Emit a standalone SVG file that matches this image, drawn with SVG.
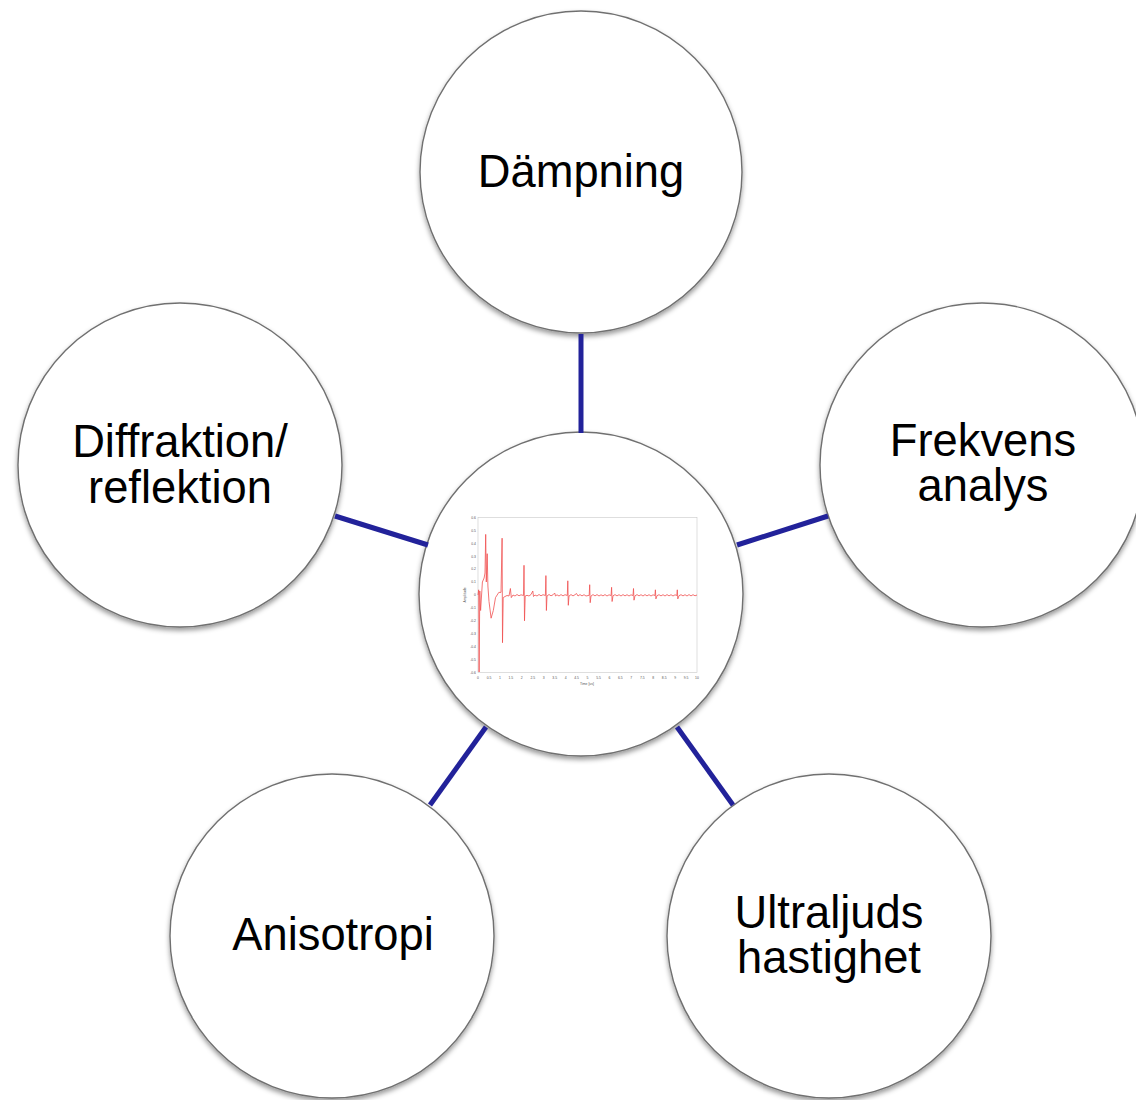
<svg xmlns="http://www.w3.org/2000/svg" width="1136" height="1100" viewBox="0 0 1136 1100">
<defs>
<filter id="sh" x="-20%" y="-20%" width="140%" height="140%">
<feDropShadow dx="0" dy="3" stdDeviation="2.5" flood-color="#000" flood-opacity="0.4"/>
</filter>
<style>
.node circle{fill:#ffffff;stroke:#707070;stroke-width:1.4;filter:url(#sh)}
.lbl{font-family:"Liberation Sans",Arial,sans-serif;font-size:45.3px;fill:#000;text-anchor:middle}
.conn line{stroke:#22229a;stroke-width:5;stroke-linecap:butt}
.tk{font-family:"Liberation Sans",Arial,sans-serif;font-size:3.4px;fill:#555}
.tky{text-anchor:end}
.tkx{text-anchor:middle}
</style>
</defs>
<rect width="1136" height="1100" fill="#ffffff"/>

<g id="node-daempning" class="node">
<circle cx="581" cy="172" r="161"/>
<text class="lbl" x="581" y="187">Dämpning</text>
</g>

<g id="node-diffraktion" class="node">
<circle cx="180" cy="465" r="162"/>
<text class="lbl" x="180" y="457">Diffraktion/</text>
<text class="lbl" x="180" y="503">reflektion</text>
</g>

<g id="node-frekvens" class="node">
<circle cx="982" cy="465" r="162"/>
<text class="lbl" x="983" y="456">Frekvens</text>
<text class="lbl" x="983" y="501">analys</text>
</g>

<g id="node-anisotropi" class="node">
<circle cx="332" cy="936" r="162"/>
<text class="lbl" x="333" y="950">Anisotropi</text>
</g>

<g id="node-ultraljud" class="node">
<circle cx="829" cy="936" r="162"/>
<text class="lbl" x="829" y="928">Ultraljuds</text>
<text class="lbl" x="829" y="973">hastighet</text>
</g>

<g id="node-center" class="node">
<circle cx="581" cy="594" r="162"/>
<g id="chart">
<rect x="466" y="514" width="241" height="174" fill="#ffffff"/>
<rect x="478" y="517.6" width="219" height="154.8" fill="none" stroke="#c8c8c8" stroke-width="0.6"/>
<g class="tk tky">
<text x="476" y="518.8">0.6</text>
<text x="476" y="531.7">0.5</text>
<text x="476" y="544.6">0.4</text>
<text x="476" y="557.5">0.3</text>
<text x="476" y="570.4">0.2</text>
<text x="476" y="583.3">0.1</text>
<text x="476" y="596.2">0</text>
<text x="476" y="609.1">-0.1</text>
<text x="476" y="622">-0.2</text>
<text x="476" y="634.9">-0.3</text>
<text x="476" y="647.8">-0.4</text>
<text x="476" y="660.7">-0.5</text>
<text x="476" y="673.6">-0.6</text>
</g>
<g class="tk tkx">
<text x="478" y="679">0</text>
<text x="489" y="679">0.5</text>
<text x="499.9" y="679">1</text>
<text x="510.9" y="679">1.5</text>
<text x="521.8" y="679">2</text>
<text x="532.8" y="679">2.5</text>
<text x="543.7" y="679">3</text>
<text x="554.7" y="679">3.5</text>
<text x="565.6" y="679">4</text>
<text x="576.6" y="679">4.5</text>
<text x="587.5" y="679">5</text>
<text x="598.5" y="679">5.5</text>
<text x="609.4" y="679">6</text>
<text x="620.4" y="679">6.5</text>
<text x="631.3" y="679">7</text>
<text x="642.3" y="679">7.5</text>
<text x="653.2" y="679">8</text>
<text x="664.2" y="679">8.5</text>
<text x="675.1" y="679">9</text>
<text x="686.1" y="679">9.5</text>
<text x="697" y="679">10</text>
<text x="587" y="684.5">Time [us]</text>
<text x="0" y="0" transform="translate(466,595) rotate(-90)">Amplitude</text>
</g>
<path fill="none" stroke="#f05050" stroke-width="0.8" stroke-linejoin="round" d="M478,595 L478.7,589.8 L479.1,672 L479.8,591 L480.6,610.5 L482.4,582 L484.1,578 L485,573 L485.7,534.4 L486.3,582 L487.2,553.7 L487.9,586 L489,601.5 L491.1,618.2 L493.3,610.5 L495.5,597.6 L498.8,592.4 L501,592.4 L502.1,538.2 L502.5,642.7 L503.2,597.6 L505,596.5 L507,595.5 L509,596 L510.4,588.5 L511.3,597.6 L513,595 L515,596 L517,594.5 L519,595.8 L521,594.8 L523.5,595.5 L524,565.3 L524.5,620.8 L525.2,596 L527,595.3 L529,596 L531,594.5 L532.8,591 L533.5,596.5 L535,595 L537,596 L539,594.5 L541,595.8 L543,594.7 L545.4,595.5 L545.9,575.6 L546.4,610.5 L547,596 L549,594.5 L551,595.8 L553,594.8 L554.7,593 L555.5,596 L557,594.8 L559,596 L561,594.6 L563,595.9 L565,594.7 L567.3,595.5 L567.8,580.8 L568.3,605.3 L569,596 L571,594.6 L573,595.9 L575,594.7 L576.5,593.5 L578,596 L580,594.6 L582,595.9 L584,594.7 L586,596 L589.2,595.3 L589.7,584.7 L590.2,602.7 L591,596 L593,594.6 L595,595.9 L597,594.6 L599,596 L601,594.8 L603,595.9 L605,594.6 L607,596 L609,594.8 L611.1,595.5 L611.6,587.3 L612.1,601.5 L613,595.8 L615,594.6 L617,595.9 L619,594.7 L621,596 L623,594.6 L625,595.9 L627,594.7 L629,596 L631,594.8 L633,595.5 L633.5,588.5 L634,600.2 L635,595.8 L637,594.6 L639,595.9 L641,594.7 L643,596 L645,594.6 L647,595.9 L649,594.7 L651,596 L653,594.8 L654.9,595.5 L655.4,589.8 L655.9,598.9 L657,595.7 L659,594.7 L661,595.9 L663,594.7 L665,596 L667,594.6 L669,595.9 L671,594.7 L673,596 L675,594.8 L676.8,595.5 L677.3,589.8 L677.8,598.9 L679,595.7 L681,594.7 L683,595.9 L685,594.7 L687,596 L689,594.6 L691,595.9 L693,594.7 L695,595.8 L697,595"/>
</g>
</g>

<g id="connectors" class="conn">
<line x1="581" y1="334" x2="581" y2="433"/>
<line x1="335" y1="516" x2="428" y2="545"/>
<line x1="737" y1="545" x2="828" y2="516"/>
<line x1="486" y1="727" x2="430" y2="805"/>
<line x1="677" y1="727" x2="733" y2="805"/>
</g>
</svg>
